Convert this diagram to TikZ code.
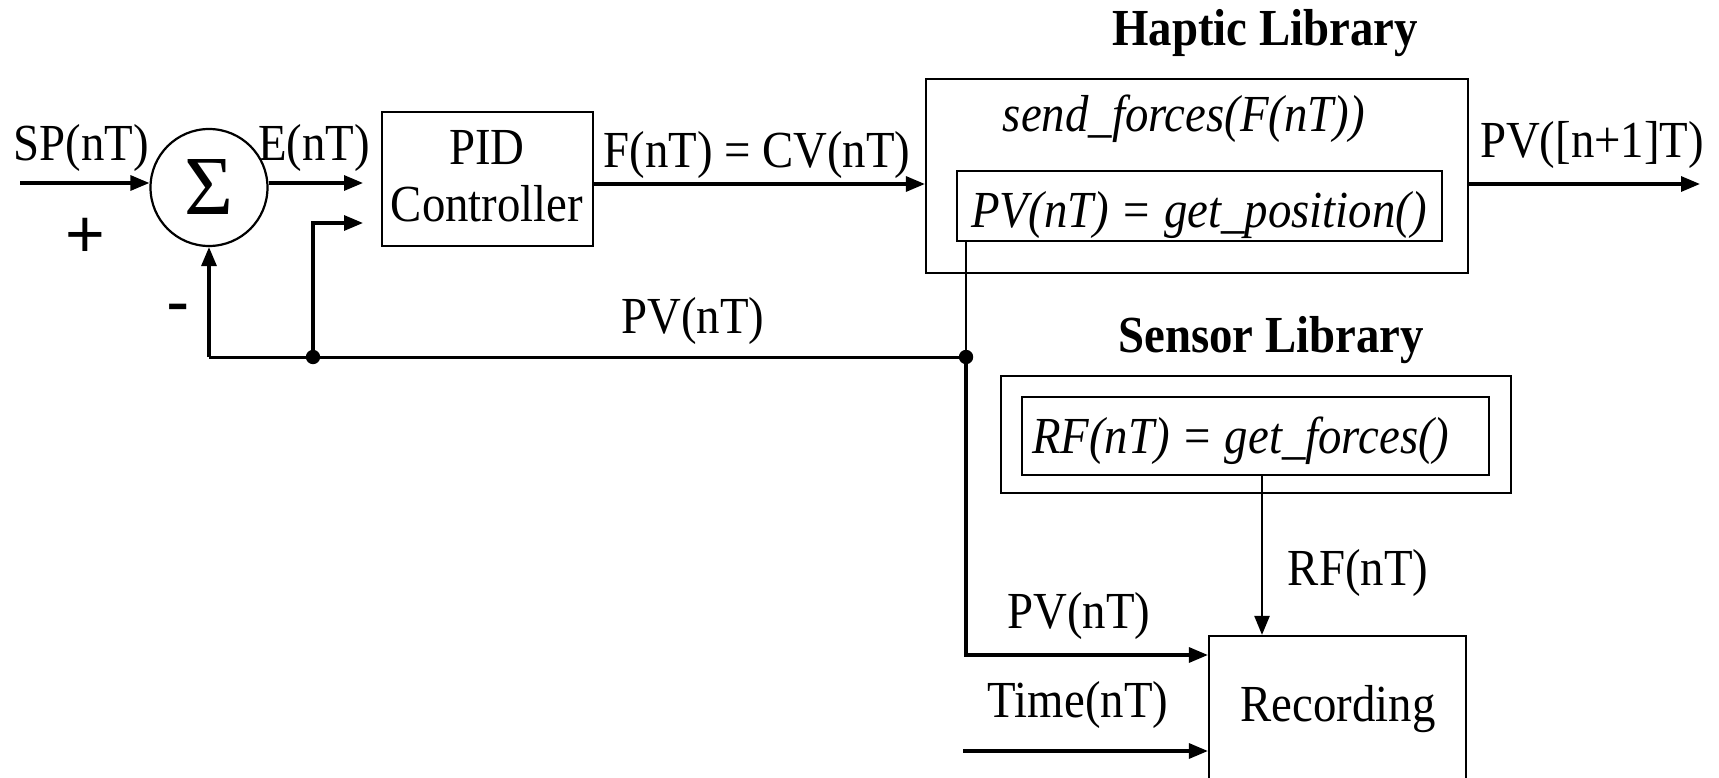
\documentclass[tikz,border=0pt]{standalone}
\usepackage{fontspec}
\setmainfont{Liberation Serif}[FakeStretch=0.9]
\newfontfamily\sansf{Liberation Sans}
\newfontfamily\sigmaf{Liberation Serif}
\usetikzlibrary{arrows.meta}
\begin{document}
\begin{tikzpicture}[x=1pt,y=-1pt,
  every node/.style={font=\fontsize{52}{58}\selectfont},
  lab/.style={inner sep=0pt, anchor=base},
  boxnode/.style={draw, line width=2.2pt, inner sep=0pt},
  arr/.style={line width=3.2pt, -{Triangle[length=19pt,width=15pt]}},
  wire/.style={line width=3pt},
  thinwire/.style={line width=2pt}]
\useasboundingbox (0,0) rectangle (1719,778);
\clip (0,0) rectangle (1719,778);

% blocks
\node[draw, circle, line width=2.2pt, minimum size=117pt, inner sep=0pt,
      font=\fontsize{84}{84}\sigmaf] (sum) at (209,187.5) {Σ};
\node[boxnode, minimum width=211pt, minimum height=134pt] (pid) at (487.5,179) {};
\node[boxnode, minimum width=542pt, minimum height=194pt] (hap) at (1197,176) {};
\node[boxnode, minimum width=485pt, minimum height=70pt] (hin) at (1199.5,206) {};
\node[boxnode, minimum width=510pt, minimum height=117pt] (sen) at (1256,434.5) {};
\node[boxnode, minimum width=467pt, minimum height=78pt] (sin) at (1255.5,436) {};
\node[boxnode, minimum width=257pt, minimum height=164pt] (rec) at (1337.5,718) {};

% texts
\node[lab] (tsp) at (81,161) {SP(nT)};
\node[lab] (te) at (314,161) {E(nT)};
\node[lab] (tpid1) at (487,165) {PID};
\node[lab] (tpid2) at (487,222) {Controller};
\node[lab] (tf) at (757,168) {F(nT) = CV(nT)};
\node[lab, font=\fontsize{52}{58}\selectfont\itshape] (tsend) at (1184,132) {send\_forces(F(nT))};
\node[lab, font=\fontsize{52}{58}\selectfont\itshape] (tget) at (1199,228) {PV(nT) = get\_position()};
\node[lab] (tout) at (1592,158) {PV([n+1]T)};
\node[lab, font=\fontsize{52}{58}\selectfont\bfseries] (thap) at (1265,46) {Haptic Library};
\node[lab] (tpvm) at (693,333) {PV(nT)};
\node[lab, font=\fontsize{52}{58}\selectfont\bfseries] (tsen) at (1271,352) {Sensor Library};
\node[lab, anchor=base west, font=\fontsize{52}{58}\selectfont\itshape] (trf) at (1032,453) {RF(nT) = get\_forces()};
\node[lab] (trfl) at (1358,585) {RF(nT)};
\node[lab] (tpvl) at (1079,628) {PV(nT)};
\node[lab] (ttime) at (1078,717) {Time(nT)};
\node[lab] (trec) at (1338,721) {Recording};
\node[inner sep=0pt, font=\fontsize{68}{68}\sansf] (tplus) at (85,238) {+};
\node[inner sep=0pt, font=\fontsize{70}{70}\sansf] (tminus) at (178,315) {-};

% coordinates
\coordinate (spin) at (20,183);
\coordinate (pidE) at (363,183);
\coordinate (pidE2) at (363,223);
\coordinate (fy) at (0,184);
\coordinate (pvout) at (1700,184);
\coordinate (d1) at (313,357);
\coordinate (d2) at (966,357);
\coordinate (fbL) at (209,357);
\coordinate (pvy) at (0,655);
\coordinate (tin) at (963,751);
\coordinate (rfx) at (1262,0);

% connectors
\draw[arr] (spin) -- (spin -| sum.west);
\draw[arr] (sum.east |- spin) -- (pidE);
\draw[arr] (pid.east |- fy) -- (hap.west |- fy);
\draw[arr] (hap.east |- fy) -- (pvout);
\draw[wire] (d2) -- (fbL);
\draw[arr] (fbL) -- (sum.south);
\draw[arr] (d1) |- (pidE2);
\draw[thinwire] (hin.south -| d2) -- (d2);
\draw[arr] (d2) |- (rec.west |- pvy);
\draw[arr] (tin) -- (tin -| rec.west);
\draw[arr, line width=2.4pt] (sin.south -| rfx) -- (rec.north -| rfx);
\fill (d1) circle (7.2pt);
\fill (d2) circle (7.2pt);
\end{tikzpicture}
\end{document}
